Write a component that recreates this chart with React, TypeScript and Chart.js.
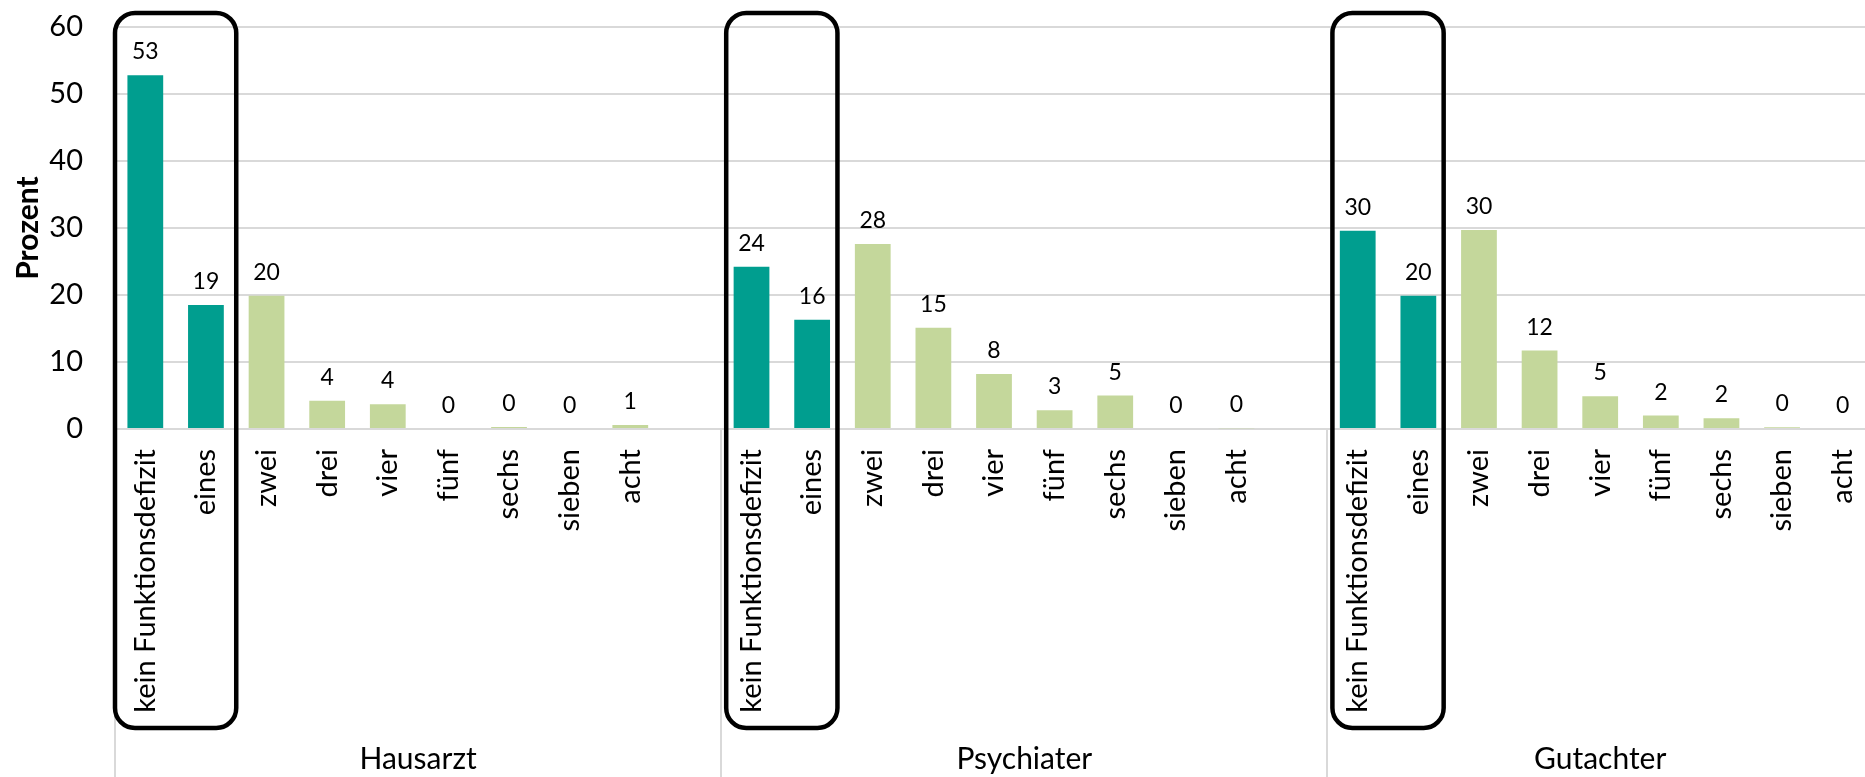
import React, { useEffect, useRef } from "react";
import { Chart, registerables } from "chart.js";

Chart.register(...registerables);

// ---------- data ----------
const groups = ["Hausarzt", "Psychiater", "Gutachter"];
const categories = ["kein Funktionsdefizit", "eines", "zwei", "drei", "vier", "fünf", "sechs", "sieben", "acht"];
const hausarzt = [52.8, 18.5, 19.9, 4.2, 3.7, 0, 0.3, 0, 0.6];
const psychiater = [24.2, 16.3, 27.6, 15.1, 8.2, 2.8, 5.0, 0, 0.1];
const gutachter = [29.6, 19.9, 29.7, 11.7, 4.9, 2.0, 1.6, 0.25, 0];
const groupValues = [hausarzt, psychiater, gutachter];
const yTicks = [0, 10, 20, 30, 40, 50, 60];
const highlightedCount = 2; // first categories of each group that are framed/dark

// ---------- style ----------
const FONT = "Lato, 'Open Sans', 'DejaVu Sans', sans-serif";
const DARK = "rgb(0,158,143)";
const LIGHT = "rgb(196,215,155)";
const GRID = "#D9D9D9";
const CANVAS_W = 1873;
const CANVAS_H = 777;
const boxInset = [0, 5, 5];

// build flattened labels/values with an empty spacer slot between groups
const labels: string[] = [];
const values: (number | null)[] = [];
const colors: string[] = [];
const groupStart: number[] = [];
const groupEnd: number[] = [];
groups.forEach((g, gi) => {
  groupStart.push(labels.length);
  categories.forEach((c, ci) => {
    labels.push(c);
    values.push(groupValues[gi][ci]);
    colors.push(ci < highlightedCount ? DARK : LIGHT);
  });
  if (gi < groups.length - 1) {
    labels.push("");
    values.push(null);
    colors.push(LIGHT);
  }
  groupEnd.push(labels.length);
});

const overlayPlugin = {
  id: "overlay",
  afterDatasetsDraw(chart: any) {
    const { ctx } = chart;
    const meta = chart.getDatasetMeta(0);
    ctx.save();
    ctx.font = `23px ${FONT}`;
    ctx.fillStyle = "#000";
    ctx.textAlign = "center";
    ctx.textBaseline = "alphabetic";
    meta.data.forEach((bar: any, i: number) => {
      const v = values[i];
      if (v === null || v === undefined) return;
      ctx.fillText(String(Math.round(v)), bar.x, bar.y - 16);
    });
    ctx.restore();
  },
  afterDraw(chart: any) {
    const { ctx, chartArea } = chart;
    const xs = chart.scales.x;
    const ys = chart.scales.y;
    const slot = xs.width / labels.length;
    const edge = (i: number) => xs.left + i * slot;
    const zeroY = ys.getPixelForValue(0);
    ctx.save();
    // group separators
    ctx.strokeStyle = GRID;
    ctx.lineWidth = 2;
    const seps = [...groupStart, groupEnd[groupEnd.length - 1]];
    seps.forEach((i) => {
      const x = Math.round(edge(i));
      ctx.beginPath();
      ctx.moveTo(x, zeroY);
      ctx.lineTo(x, chart.height);
      ctx.stroke();
    });
    // group labels
    ctx.font = `30px ${FONT}`;
    ctx.fillStyle = "#000";
    ctx.textAlign = "center";
    ctx.textBaseline = "alphabetic";
    groups.forEach((g, gi) => {
      const cx = (edge(groupStart[gi]) + edge(groupEnd[gi])) / 2;
      ctx.fillText(g, cx, chart.height - 8);
    });
    // rounded frames around highlighted categories
    ctx.strokeStyle = "#000";
    ctx.lineWidth = 4.5;
    groups.forEach((g, gi) => {
      const l = edge(groupStart[gi]) + boxInset[gi];
      const r = edge(groupStart[gi] + highlightedCount) - boxInset[gi];
      const t = chartArea.top - 14;
      const b = zeroY + 299;
      ctx.beginPath();
      (ctx as any).roundRect(l, t, r - l, b - t, 20);
      ctx.stroke();
    });
    ctx.restore();
  },
};

export default function App() {
  const ref = useRef<HTMLCanvasElement | null>(null);
  useEffect(() => {
    if (!ref.current) return;
    const chart = new Chart(ref.current, {
      type: "bar",
      data: {
        labels,
        datasets: [
          {
            data: values as any,
            backgroundColor: colors,
            borderWidth: 0,
            barPercentage: 0.59,
            categoryPercentage: 1,
          },
        ],
      },
      options: {
        responsive: false,
        animation: false,
        layout: { padding: { top: 27, left: 0, right: 0, bottom: 0 } },
        plugins: { legend: { display: false }, tooltip: { enabled: false } },
        scales: {
          x: {
            grid: { display: false, drawTicks: false },
            border: { display: false },
            ticks: {
              autoSkip: false,
              maxRotation: 90,
              minRotation: 90,
              padding: 20,
              color: "#000",
              font: { family: FONT, size: 29 },
            },
            afterFit(scale: any) {
              scale.height = 348;
              scale.paddingLeft = 0;
              scale.paddingRight = 0;
            },
          },
          y: {
            min: 0,
            max: 60,
            afterBuildTicks(scale: any) {
              scale.ticks = yTicks.map((v) => ({ value: v }));
            },
            grid: { color: GRID, lineWidth: 2, drawTicks: false },
            border: { display: false },
            ticks: {
              padding: 32,
              color: "#000",
              font: { family: FONT, size: 29 },
            },
            title: {
              display: true,
              text: "Prozent",
              color: "#000",
              font: { family: FONT, size: 30, weight: "bold" },
              padding: { top: 10, bottom: 0 },
            },
            afterFit(scale: any) {
              scale.width = 115;
              scale.paddingTop = 0;
              scale.paddingBottom = 0;
            },
          },
        },
      },
      plugins: [overlayPlugin],
    });
    return () => chart.destroy();
  }, []);
  return (
    <div style={{ position: "fixed", left: 0, top: 0, width: CANVAS_W, height: CANVAS_H, background: "#fff" }}>
      <canvas ref={ref} width={CANVAS_W} height={CANVAS_H} style={{ width: CANVAS_W, height: CANVAS_H }} />
    </div>
  );
}
